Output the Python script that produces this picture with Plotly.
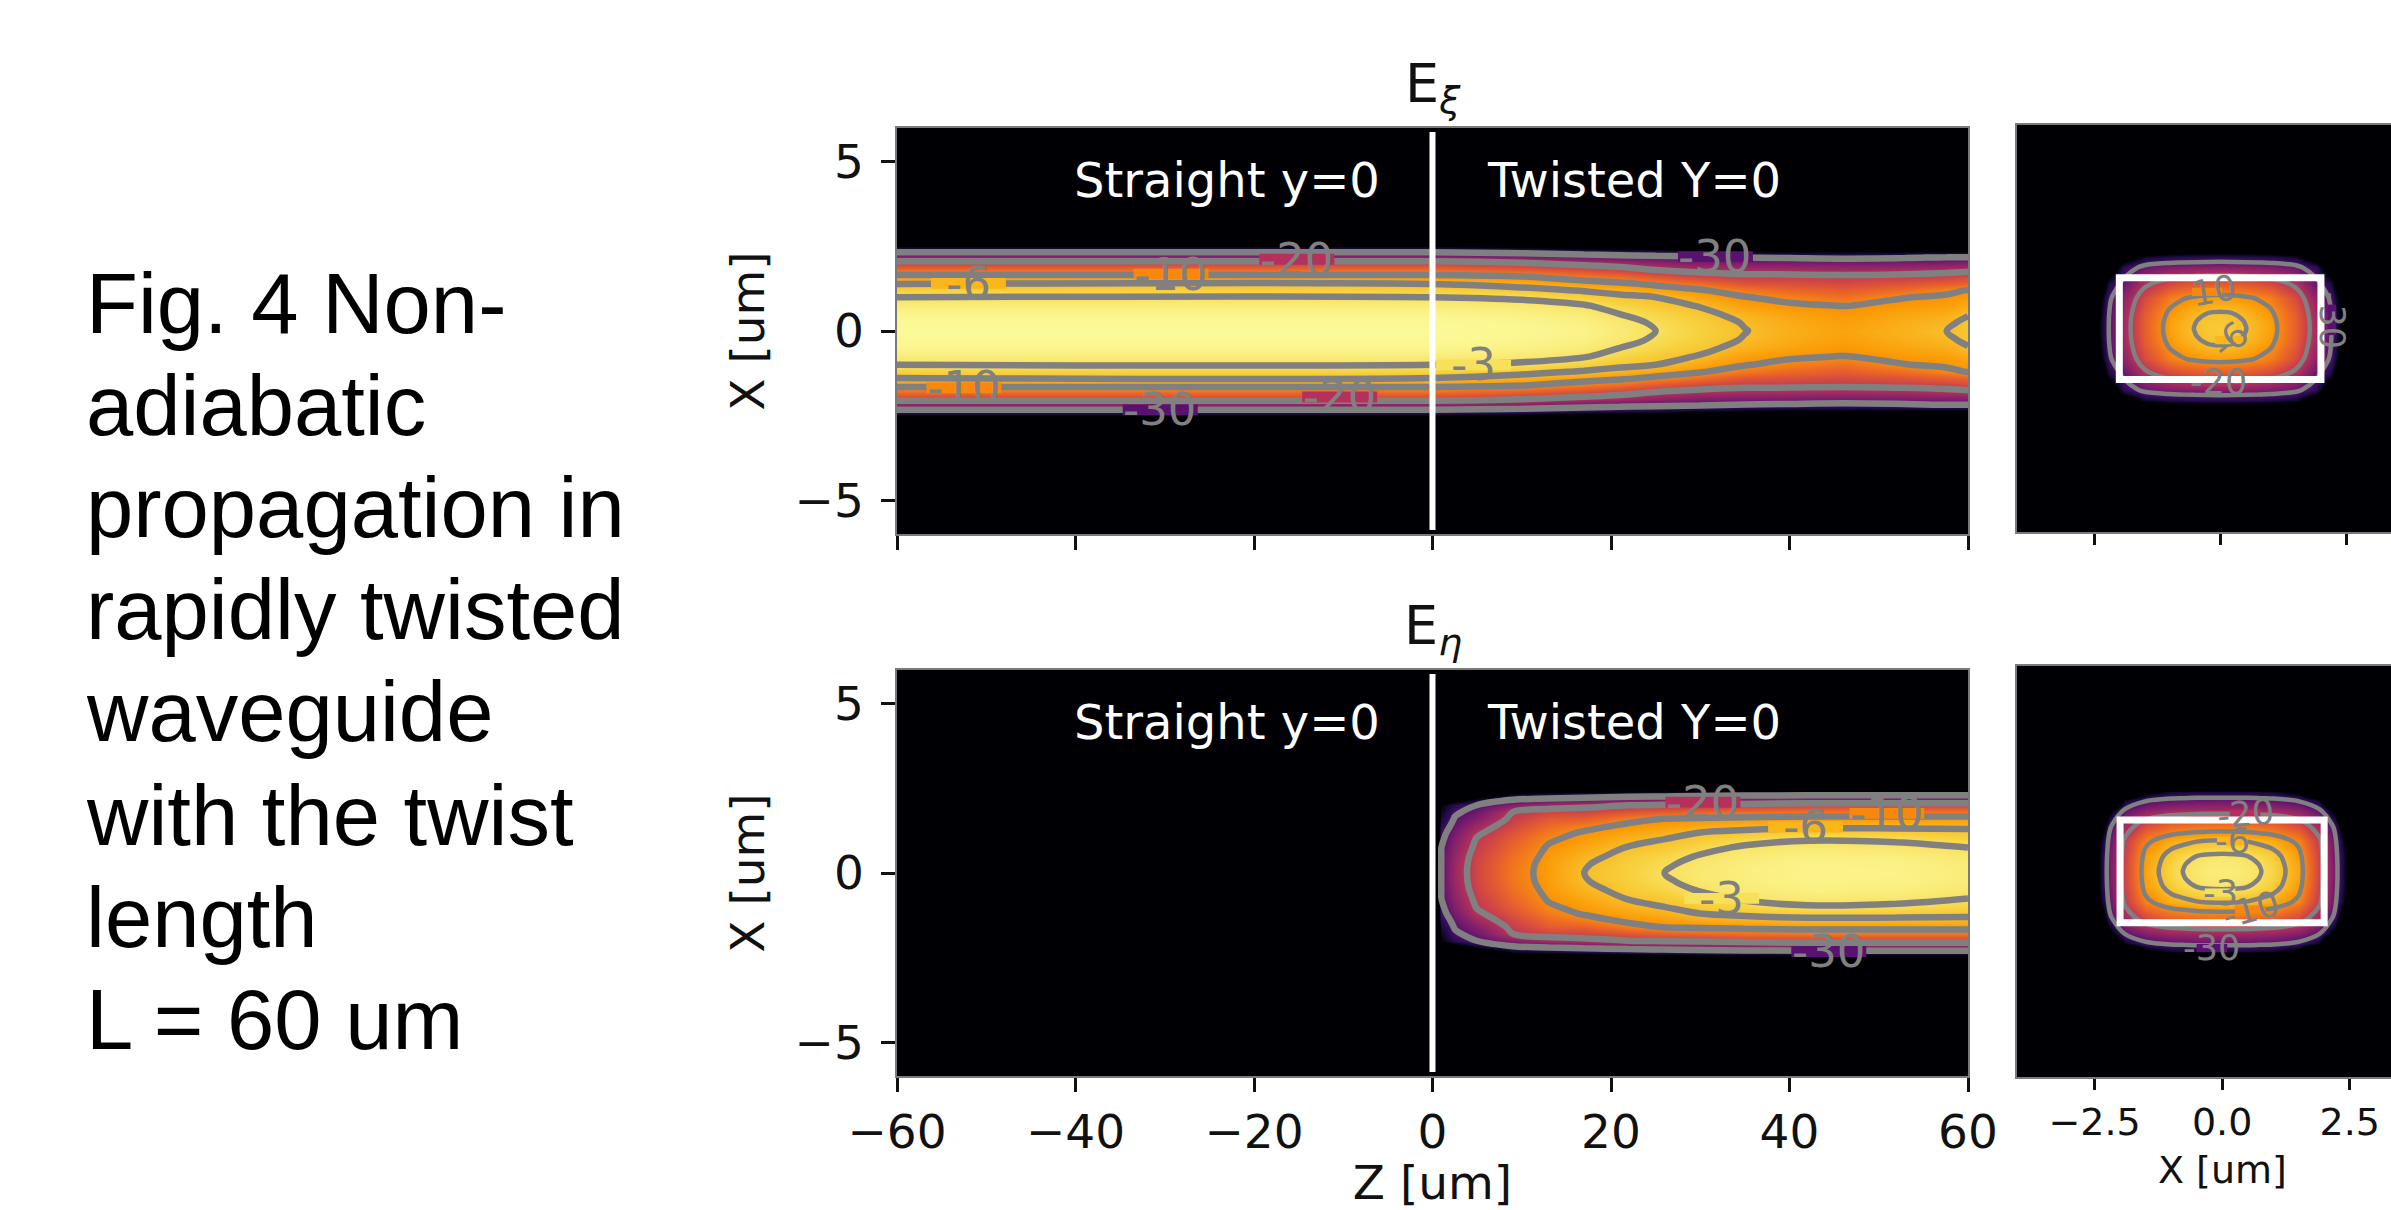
import numpy as np
import plotly.graph_objects as go

W, H = 2391, 1210

# ---- data ----
LEVELS = [-30, -20, -10, -6, -3]
LEVEL_GAP = {-30: "#5a1270", -20: "#b5305c", -10: "#f8870e", -6: "#fbb61a", -3: "#f7e05a"}

# |X| stations (um) for the long panels
RX = [0, .25, .5, .75, 1, 1.2, 1.4, 1.6, 1.8, 2, 2.2, 2.35, 2.5, 2.6, 6]

# E_xi, Y=0 plane: dB profile versus |X| at each Z station
XI_Z = [-60, 0, 10, 17, 21, 25, 30, 35, 40, 46, 53, 57.6, 60]
XI_DB = [
    [-0.5, -0.6, -1.0, -1.8, -3, -4.5, -6.1, -8.9, -13, -18, -24.8, -31, -40, -60, -60],
    [-0.5, -0.6, -1.0, -1.8, -3, -4.5, -6.1, -8.9, -13, -18, -24.8, -31, -40, -60, -60],
    [-0.8, -0.9, -1.3, -2.1, -3.4, -5.1, -7.2, -9.7, -14.5, -19.5, -26, -32, -42, -60, -60],
    [-1.2, -1.4, -1.9, -2.8, -4.5, -6.2, -8.5, -11.7, -16.4, -21.5, -27.5, -34, -45, -60, -60],
    [-2, -2.2, -3, -4, -5.3, -7.1, -9.4, -13, -17.8, -22.6, -28.2, -35, -46, -60, -60],
    [-3, -3.3, -3.9, -4.9, -6, -8.2, -10.7, -15.3, -20, -24.5, -29, -36, -45, -60, -60],
    [-4.4, -4.6, -5.2, -6.2, -8, -9.6, -12.9, -17.3, -21.5, -25.8, -30, -38, -50, -60, -60],
    [-5.9, -6.2, -7, -8.5, -9.8, -12.1, -15.7, -18.6, -22.1, -26.2, -30.6, -39, -50, -60, -60],
    [-7.3, -7.5, -8.2, -9.4, -11.2, -13.8, -16.2, -18.8, -22.1, -26.4, -31, -40, -50, -60, -60],
    [-8.2, -8.5, -9.1, -10.1, -12.8, -14.9, -17, -19.1, -22.5, -26.7, -31.5, -40, -50, -60, -60],
    [-7, -7.3, -8, -9, -10.1, -13, -15.7, -18.6, -22.1, -26.4, -31, -40, -50, -60, -60],
    [-6, -6.5, -7.4, -8.5, -9.4, -10.9, -14.5, -17.9, -21.5, -26, -30.4, -40, -50, -60, -60],
    [-5.2, -5.4, -6.2, -7.6, -8.9, -9.8, -13.8, -16.9, -20.9, -25.5, -30.5, -40, -50, -60, -60],
]

# E_eta, Y=0 plane
ETA_Z = [-60, 0.2, 1, 2.5, 5, 9, 13, 17, 22, 26, 30, 35, 42, 52, 60]
ETA_DB = [
    [-60] * 15,
    [-60] * 15,
    [-29, -29.2, -29.5, -30, -31, -32, -34, -36, -38, -40, -50, -60, -60, -60, -60],
    [-23, -23.2, -23.7, -24.5, -25.5, -26.7, -28, -29.5, -31, -34, -45, -60, -60, -60, -60],
    [-17.5, -17.6, -18, -18.8, -19.6, -21, -23, -25.4, -27.6, -29.8, -38, -50, -60, -60, -60],
    [-12, -12.2, -12.8, -13.6, -14.8, -16, -17.4, -18.8, -20, -25.7, -31, -40, -60, -60, -60],
    [-8.5, -8.6, -9, -9.6, -10.5, -11.8, -13.3, -15, -17.8, -22.6, -30, -38, -60, -60, -60],
    [-6, -6.2, -6.9, -7.8, -8.8, -9.6, -11.5, -14.5, -17.6, -21.4, -28.5, -37, -50, -60, -60],
    [-4.5, -4.6, -5, -5.8, -7, -8.2, -9.2, -11.3, -15.7, -20, -27, -36, -50, -60, -60],
    [-3, -3.3, -4, -5, -6, -7.3, -8.6, -9.9, -14.5, -19.5, -26.4, -35, -50, -60, -60],
    [-2.2, -2.3, -2.8, -3.8, -5, -6, -7.7, -9.5, -13.8, -19.2, -25.9, -34, -50, -60, -60],
    [-1.6, -1.7, -2, -2.6, -4, -5.4, -7.1, -9, -12.9, -18.6, -25.2, -33, -50, -60, -60],
    [-1.1, -1.2, -1.5, -2.1, -3.2, -4.9, -6.7, -8.8, -12.3, -18, -24.9, -33, -50, -60, -60],
    [-1.2, -1.3, -1.6, -2.3, -3.4, -5, -6.7, -8.8, -12.3, -18, -24.9, -33, -50, -60, -60],
    [-1.8, -1.9, -2.3, -3, -4.2, -5.3, -6.7, -8.8, -12.3, -18, -24.9, -33, -50, -60, -60],
]

# cross sections: one quarter, rows are |Y|, columns |X|
CS_X = [0, .25, .5, .75, 1, 1.5, 1.9, 2.2, 2.4, 2.6, 4]
CS_Y = [0, .15, .3, .6, .9, 1.2, 1.4, 1.55, 1.7, 4]
XI_CS_DB = [
    [-5, -5.2, -5.9, -7, -8.4, -14.4, -22.5, -29.5, -40, -60, -60],
    [-5.2, -5.4, -6.1, -7.2, -8.6, -14.6, -22.6, -29.6, -40, -60, -60],
    [-5.7, -6, -6.8, -7.9, -9.3, -15, -23, -30, -41, -60, -60],
    [-8.6, -8.8, -9.4, -10.3, -11.5, -17, -24.5, -31, -43, -60, -60],
    [-15.4, -15.5, -15.8, -16.5, -17.5, -21.5, -28, -36, -50, -60, -60],
    [-25, -25.1, -25.3, -25.6, -26, -28, -34, -48, -60, -60, -60],
    [-34, -34.1, -34.3, -34.6, -35, -37, -46, -60, -60, -60, -60],
    [-45, -45, -45, -45.5, -46, -50, -60, -60, -60, -60, -60],
    [-60] * 11,
    [-60] * 11,
]
ETA_CS_DB = [
    [-1.8, -1.9, -2.3, -2.9, -4.1, -8, -17.7, -26.5, -38, -60, -60],
    [-2, -2.1, -2.5, -3.1, -4.3, -8.2, -17.8, -26.6, -38, -60, -60],
    [-2.5, -2.6, -3, -3.8, -4.8, -8.7, -18, -27, -38, -60, -60],
    [-5.8, -5.9, -6.2, -6.8, -7.5, -11, -19, -28, -40, -60, -60],
    [-12.7, -12.8, -13, -13.4, -14, -17, -23, -31, -48, -60, -60],
    [-22.4, -22.5, -22.6, -22.9, -23.2, -25, -29, -42, -60, -60, -60],
    [-28, -28.1, -28.2, -28.6, -29, -31, -38, -60, -60, -60, -60],
    [-36, -36, -36, -36.5, -37, -42, -60, -60, -60, -60, -60],
    [-60] * 11,
    [-60] * 11,
]

# contour labels: level, x, y, text angle
XI_LABELS = [(-6, -52, 1.41, 0), (-10, -29.3, 1.68, 0), (-20, -15.2, 2.12, 0), (-30, 31.7, 2.2, 0),
             (-3, 4.6, -1.0, 0), (-10, -52.5, -1.68, 0), (-20, -10.4, -1.95, 0), (-30, -30.5, -2.33, 0)]
ETA_LABELS = [(-20, 30.3, 2.09, 0), (-6, 41.8, 1.36, 0), (-10, 50.9, 1.76, 0), (-3, 32.4, -0.75, 0),
              (-30, 44.4, -2.32, 0)]
XI_CS_LABELS = [(-10, -0.26, 0.72, -10), (-6, 0.2, -0.23, -40), (-30, 2.22, 0.17, 90), (-20, -0.04, -1.05, 0)]
ETA_CS_LABELS = [(-20, 0.45, 1.12, -5), (-6, 0.2, 0.59, 0), (-3, -0.04, -0.41, 0), (-10, 0.55, -0.74, -15),
                 (-30, -0.2, -1.49, 0)]

Z_TICKS = [-60, -40, -20, 0, 20, 40, 60]
Z_TICK_TEXT = ["−60", "−40", "−20", "0", "20", "40", "60"]
X_TICKS = [-5, 0, 5]
X_TICK_TEXT = ["−5", "0", "5"]
CS_TICKS = [-2.5, 0, 2.5]
CS_TICK_TEXT = ["−2.5", "0.0", "2.5"]
CAPTION = ["Fig. 4 Non-", "adiabatic", "propagation in", "rapidly twisted",
           "waveguide", "with the twist", "length", "L = 60 um"]
CAPTION_Y_PX = [304, 405, 507, 609, 711, 815, 917, 1019]
REGION_NAMES = ["Straight y=0", "Twisted Y=0"]


# ---- helpers ----
def both_signs(values):
    v = list(values)
    return [-a for a in v[:0:-1]] + v


def long_z(columns):
    m = np.array(columns, dtype=float).T
    return np.vstack([m[:0:-1], m]).tolist()


def quarter_z(rows):
    m = np.array(rows, dtype=float)
    m = np.vstack([m[:0:-1], m])
    m = np.hstack([m[:, :0:-1], m])
    return m.tolist()


fig = go.Figure()


def add_field(x, y, z, suffix, line_w):
    fig.add_trace(go.Heatmap(x=x, y=y, z=z, colorscale="Inferno", zmin=-40, zmax=0, zsmooth="best",
                             showscale=False, xaxis="x" + suffix, yaxis="y" + suffix, hoverinfo="skip"))
    for lev in LEVELS:
        fig.add_trace(go.Contour(x=x, y=y, z=z, autocontour=False,
                                 contours=dict(start=lev, end=lev, size=1, coloring="none"),
                                 line=dict(color="#808080", width=line_w, smoothing=1),
                                 showscale=False, showlegend=False, xaxis="x" + suffix, yaxis="y" + suffix,
                                 hoverinfo="skip"))


X_ALL = both_signs(RX)
CSX_ALL = both_signs(CS_X)
CSY_ALL = both_signs(CS_Y)
add_field(XI_Z, X_ALL, long_z(XI_DB), "", 6.5)
add_field(ETA_Z, X_ALL, long_z(ETA_DB), "2", 6.5)
add_field(CSX_ALL, CSY_ALL, quarter_z(XI_CS_DB), "3", 4.5)
add_field(CSX_ALL, CSY_ALL, quarter_z(ETA_CS_DB), "4", 4.5)

FONT = "DejaVu Sans"


def dom_x(a, b):
    return [a / W, b / W]


def dom_y(top, bottom):
    return [1 - bottom / H, 1 - top / H]


def axis(dom, rng, ticks=None, text=None, ticklen=14, size=47, labels=True, anchor=None, title=None, standoff=0,
         label_gap=0):
    d = dict(domain=dom, range=rng, showgrid=False, zeroline=False, showline=True, mirror=True,
             linecolor="#7a7a7a", linewidth=1.5, anchor=anchor, layer="above traces", automargin=False)
    if ticks is None:
        d.update(showticklabels=False, ticks="")
    else:
        d.update(tickmode="array", tickvals=ticks, ticktext=text if labels else None,
                 showticklabels=labels, ticks="outside", ticklen=ticklen, tickwidth=2.5, tickcolor="#111111",
                 ticklabelstandoff=label_gap,
                 tickfont=dict(family=FONT, size=size, color="#111111"))
    if title:
        d["title"] = dict(text=title, standoff=standoff, font=dict(family=FONT, size=size, color="#111111"))
    return d


lay = dict(
    template="none",
    width=W, height=H, autosize=False, margin=dict(l=0, r=0, t=0, b=0, pad=0),
    paper_bgcolor="white", plot_bgcolor="black", showlegend=False,
    xaxis=axis(dom_x(897, 1968), [-60, 60], Z_TICKS, Z_TICK_TEXT, labels=False, anchor="y"),
    yaxis=axis(dom_y(128, 534), [-6, 6], X_TICKS, X_TICK_TEXT, anchor="x", title="X [um]", standoff=15, label_gap=8),
    xaxis2=axis(dom_x(897, 1968), [-60, 60], Z_TICKS, Z_TICK_TEXT, anchor="y2", title="Z [um]", standoff=21),
    yaxis2=axis(dom_y(670, 1076), [-6, 6], X_TICKS, X_TICK_TEXT, anchor="x2", title="X [um]", standoff=15, label_gap=8),
    xaxis3=axis(dom_x(2017, 2391), [-4.03, 3.39], CS_TICKS, CS_TICK_TEXT, ticklen=11, size=38, labels=False, anchor="y3"),
    yaxis3=axis(dom_y(125, 532), [-4, 4], anchor="x3"),
    xaxis4=axis(dom_x(2017, 2391), [-4.02, 3.31], CS_TICKS, CS_TICK_TEXT, ticklen=11, size=38, anchor="y4"),
    yaxis4=axis(dom_y(666, 1077), [-4, 4], anchor="x4"),
)

annotations = []
shapes = []


def add_labels(labels, xref, yref, size, dx, dy):
    for lev, x, y, ang in labels:
        ax, ay = (dy, dx) if ang == 90 else (dx, dy)
        shapes.append(dict(type="rect", xref=xref, yref=yref, x0=x - ax, x1=x + ax, y0=y - ay, y1=y + ay,
                           fillcolor=LEVEL_GAP[lev], line=dict(width=0), layer="above"))
        annotations.append(dict(text=str(lev), x=x, y=y, xref=xref, yref=yref, showarrow=False, textangle=ang,
                                font=dict(family=FONT, size=size, color="#808080")))


add_labels(XI_LABELS, "x", "y", 45, 4.2, 0.16)
add_labels(ETA_LABELS, "x2", "y2", 45, 4.2, 0.16)
add_labels(XI_CS_LABELS, "x3", "y3", 35, 0.3, 0.08)
add_labels(ETA_CS_LABELS, "x4", "y4", 35, 0.3, 0.08)

# white markers: waveguide boundary and interface
for xr, yr in (("x", "y"), ("x2", "y2")):
    shapes.append(dict(type="line", xref=xr, yref=yr, x0=0, x1=0, y0=-5.88, y1=5.88,
                       line=dict(color="white", width=6), layer="above"))
    annotations.append(dict(text=REGION_NAMES[0], x=-23, y=4.45, xref=xr, yref=yr, showarrow=False,
                            font=dict(family=FONT, size=48, color="white")))
    annotations.append(dict(text=REGION_NAMES[1], x=22.6, y=4.45, xref=xr, yref=yr, showarrow=False,
                            font=dict(family=FONT, size=48, color="white")))
for xr, yr in (("x3", "y3"), ("x4", "y4")):
    shapes.append(dict(type="rect", xref=xr, yref=yr, x0=-2, x1=2, y0=-1, y1=1,
                       line=dict(color="white", width=7), layer="above"))

# panel titles
annotations.append(dict(text="E<sub><i>ξ</i></sub>", x=0, xref="x", y=1 - 124 / H, yref="paper", yanchor="bottom",
                        showarrow=False, font=dict(family=FONT, size=54, color="#111111")))
annotations.append(dict(text="E<sub><i>η</i></sub>", x=0, xref="x2", y=1 - 666 / H, yref="paper", yanchor="bottom",
                        showarrow=False, font=dict(family=FONT, size=54, color="#111111")))
annotations.append(dict(text="X [um]", x=0, xref="x4", y=1 - 1170 / H, yref="paper", yanchor="middle",
                        showarrow=False, font=dict(family=FONT, size=38, color="#111111")))

# caption
for line, ypx in zip(CAPTION, CAPTION_Y_PX):
    annotations.append(dict(text=line, x=84 / W, xref="paper", xanchor="left", y=1 - ypx / H, yref="paper",
                            yanchor="middle", showarrow=False,
                            font=dict(family="Liberation Sans", size=85, color="#000000")))

lay["annotations"] = annotations
lay["shapes"] = shapes
fig.update_layout(**lay)

fig.write_html("out.html", config=dict(displayModeBar=False),
               post_script="document.body.style.margin='0';document.body.style.overflow='hidden';")
